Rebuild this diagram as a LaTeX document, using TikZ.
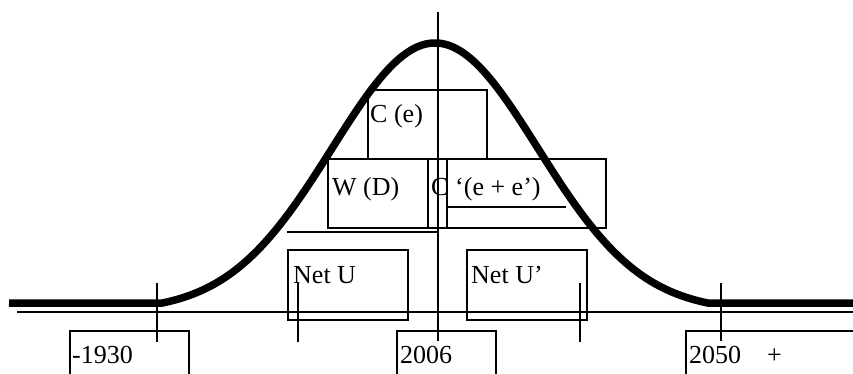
\documentclass[tikz,border=0pt]{standalone}
\usepackage{fontspec}
\setmainfont{Liberation Serif}
\begin{document}
\begin{tikzpicture}[x=1pt,y=-1pt,
  thinline/.style={line width=1.6pt},
  boxnode/.style={draw,line width=1.6pt,rectangle,inner sep=0pt,anchor=north west},
  lbl/.style={inner sep=0pt,anchor=base west,font=\fontsize{26}{29}\selectfont},
  curve/.style={line width=7.5pt,line join=round}]
\useasboundingbox (0,0) rectangle (853,374);
\clip (0,0) rectangle (853,374);
% axis and main vertical
\coordinate (axl) at (17,312);
\coordinate (axr) at (853,312);
\draw[thinline] (axl) -- (axr);
\coordinate (vt) at (438,12);
\coordinate (vb) at (438,341);
\draw[thinline] (vt) -- (vb);
% bell curve
\coordinate (cl) at (9,303);
\coordinate (cr) at (853,303);
\draw[curve] (cl) -- plot[domain=162:708,samples=200]
  (\x,{303-268*(exp(-(((\x-435)/100)^2)/2.1218)-0.03)}) -- (cr);
% boxes
\node[boxnode,minimum width=119pt,minimum height=69pt] (ce) at (367,89) {};
\node[boxnode,minimum width=100pt,minimum height=69pt] (wd) at (327,158) {};
\node[boxnode,minimum width=19pt,minimum height=69pt] (cc) at (427,158) {};
\node[boxnode,minimum width=159pt,minimum height=69pt] (cee) at (446,158) {};
\node[boxnode,minimum width=120pt,minimum height=70pt] (nu) at (287,249) {};
\node[boxnode,minimum width=120pt,minimum height=70pt] (nup) at (466,249) {};
\node[boxnode,minimum width=119pt,minimum height=60pt] (y1) at (69,330) {};
\node[boxnode,minimum width=99pt,minimum height=60pt] (y2) at (396,330) {};
\node[boxnode,minimum width=180pt,minimum height=60pt] (y3) at (685,330) {};
% extra lines
\coordinate (ul1) at (446,207);
\coordinate (ul2) at (566,207);
\draw[thinline] (ul1) -- (ul2);
\coordinate (hl1) at (287,232);
\coordinate (hl2) at (438,232);
\draw[thinline] (hl1) -- (hl2);
% ticks
\coordinate (t1a) at (157,283); \coordinate (t1b) at (157,342);
\draw[thinline] (t1a) -- (t1b);
\coordinate (t2a) at (298,283); \coordinate (t2b) at (298,342);
\draw[line width=2.2pt] (t2a) -- (t2b);
\coordinate (t3a) at (580,283); \coordinate (t3b) at (580,342);
\draw[thinline] (t3a) -- (t3b);
\coordinate (t4a) at (721,283); \coordinate (t4b) at (721,341);
\draw[thinline] (t4a) -- (t4b);
% labels
\node[lbl] (lce) at (370,123) {C (e)};
\node[lbl] (lwd) at (332,195) {W (D)};
\node[lbl] (lc) at (431,195) {C};
\node[lbl] (lee) at (455,195) {‘(e + e’)};
\node[lbl] (lnu) at (293,283) {Net U};
\node[lbl] (lnup) at (471,283) {Net U’};
\node[lbl] (l1930) at (72,363) {-1930};
\node[lbl] (l2006) at (400,363) {2006};
\node[lbl] (l2050) at (689,363) {2050\hspace{26pt}+};
\end{tikzpicture}
\end{document}
